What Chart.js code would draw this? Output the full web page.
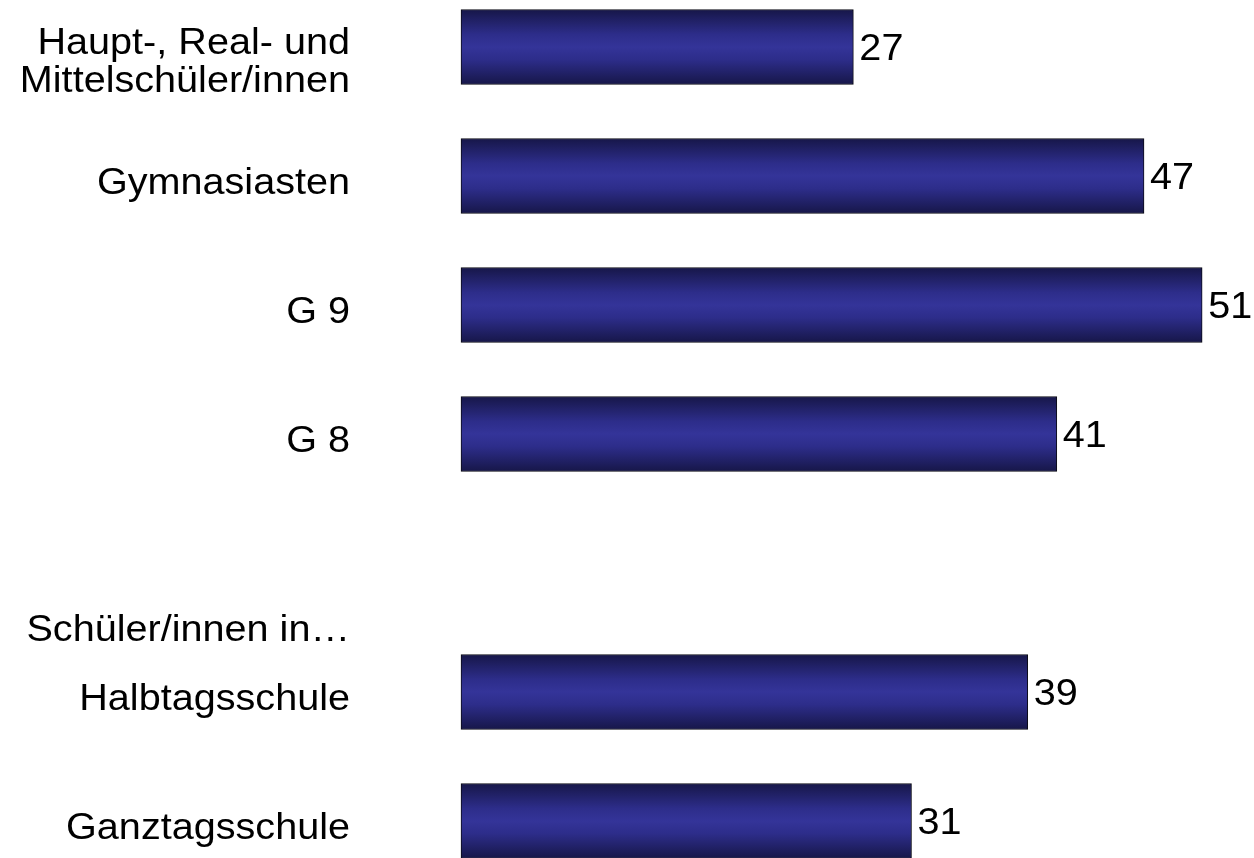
<!DOCTYPE html>
<html>
<head>
<meta charset="utf-8">
<script src="https://cdn.jsdelivr.net/npm/chart.js@4/dist/chart.umd.min.js"></script>
<style>
  html, body { margin: 0; padding: 0; background: #fff; }
  #wrap { width: 1254px; height: 858px; position: relative; }
</style>
</head>
<body>
<div id="wrap"><canvas id="schoolChart"></canvas></div>
<script>
// categories (empty slot separates the two groups)
const categories = [
    ['Haupt-, Real- und', 'Mittelschüler/innen'],
    'Gymnasiasten',
    'G 9',
    'G 8',
    '',
    'Halbtagsschule',
    'Ganztagsschule'
];
const values = [27, 47, 51, 41, null, 39, 31];
const groupHeading = 'Schüler/innen in…';

const FONT = '36px "Liberation Sans", Arial, sans-serif';
const STRETCH = 1.1; // text in the picture is a bit wider than normal

const drawText = (ctx, text, x, y, align) => {
    ctx.save();
    ctx.translate(x, y);
    ctx.scale(STRETCH, 1);
    ctx.textAlign = align;
    ctx.textBaseline = 'middle';
    ctx.fillText(text, 0, 0);
    ctx.restore();
};

const barGradient = (context) => {
    const chart = context.chart;
    const yScale = chart.scales.y;
    if (!chart.chartArea || !yScale) return '#333399';
    const cy = yScale.getPixelForValue(context.dataIndex);
    const g = chart.ctx.createLinearGradient(0, cy - 37, 0, cy + 37);
    g.addColorStop(0, '#17174a');
    g.addColorStop(0.33, '#2d2d8a');
    g.addColorStop(0.5, '#343499');
    g.addColorStop(0.67, '#2d2d8a');
    g.addColorStop(1, '#17174a');
    return g;
};

const textPlugin = {
    id: 'textPlugin',
    afterDatasetsDraw(chart) {
        const ctx = chart.ctx;
        const yScale = chart.scales.y;
        ctx.save();
        ctx.font = FONT;
        ctx.fillStyle = '#000';

        // category labels on the left, sitting a little below the bar centre
        categories.forEach((label, i) => {
            const lines = Array.isArray(label) ? label : [label];
            const cy = yScale.getPixelForValue(i) + (lines.length > 1 ? 16 : 8);
            const lh = 38;
            lines.forEach((line, k) => {
                const y = cy + (k - (lines.length - 1) / 2) * lh;
                drawText(ctx, line, 350, y, 'right');
            });
        });

        // heading of the second group
        drawText(ctx, groupHeading, 350, yScale.getPixelForValue(4.5) + 4, 'right');

        // value labels
        const meta = chart.getDatasetMeta(0);
        meta.data.forEach((bar, i) => {
            if (values[i] == null) return;
            drawText(ctx, String(values[i]), bar.x + 6, bar.y + 3, 'left');
        });
        ctx.restore();
    }
};

const ctx = document.getElementById('schoolChart').getContext('2d');
const schoolChart = new Chart(ctx, {
    type: 'bar',
    data: {
        labels: categories,
        datasets: [{
            data: values,
            backgroundColor: barGradient,
            borderColor: '#0a0a14',
            borderWidth: 1,
            borderSkipped: false,
            barThickness: 75,
            clip: false
        }]
    },
    options: {
        indexAxis: 'y',
        responsive: true,
        maintainAspectRatio: false,
        animation: false,
        layout: {
            padding: { left: 461, right: 1, top: 47, bottom: 37 }
        },
        scales: {
            x: { display: false, min: 0, max: 54.5 },
            y: { display: false, offset: false }
        },
        plugins: {
            legend: { display: false },
            tooltip: { enabled: false }
        }
    },
    plugins: [textPlugin]
});
</script>
</body>
</html>
